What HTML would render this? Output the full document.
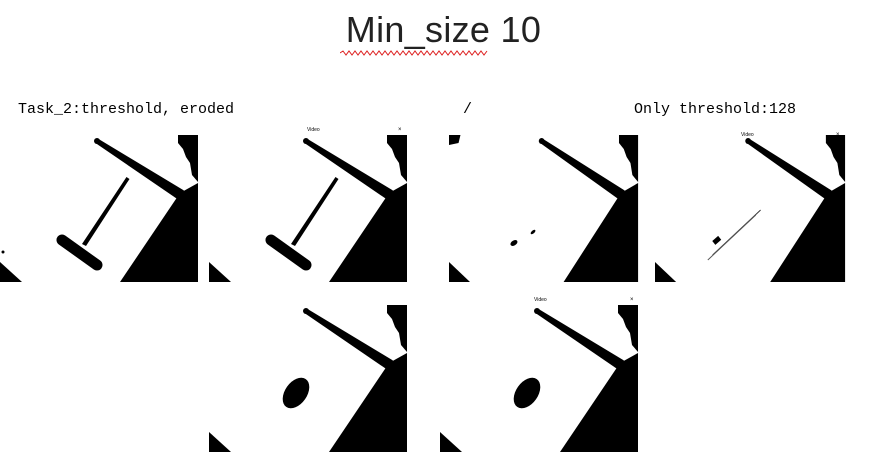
<!DOCTYPE html>
<html><head><meta charset="utf-8">
<style>
body{margin:0;width:887px;height:459px;background:#fff;overflow:hidden;position:relative;font-family:"Liberation Sans",sans-serif}
.t{position:absolute;white-space:nowrap}
</style></head><body>
<div class="t" style="left:0;width:887px;text-align:center;top:9px;font-size:36px;color:#222;letter-spacing:0.3px">Min_size 10</div>
<svg style="position:absolute;left:340px;top:50px" width="152" height="6"><path d="M0 3 l3 -2 l3 4 l3 -4 l3 4 l3 -4 l3 4 l3 -4 l3 4 l3 -4 l3 4 l3 -4 l3 4 l3 -4 l3 4 l3 -4 l3 4 l3 -4 l3 4 l3 -4 l3 4 l3 -4 l3 4 l3 -4 l3 4 l3 -4 l3 4 l3 -4 l3 4 l3 -4 l3 4 l3 -4 l3 4 l3 -4 l3 4 l3 -4 l3 4 l3 -4 l3 4 l3 -4 l3 4 l3 -4 l3 4 l3 -4 l3 4 l3 -4 l3 4 l3 -4 l3 4 l3 -4" stroke="#d22" fill="none" stroke-width="1"/></svg>
<div class="t" style="left:18px;top:101px;font-family:'Liberation Mono',monospace;font-size:15px">Task_2:threshold, eroded</div>
<div class="t" style="left:463px;top:101px;font-family:'Liberation Mono',monospace;font-size:15px">/</div>
<div class="t" style="left:634px;top:101px;font-family:'Liberation Mono',monospace;font-size:15px">Only threshold:128</div>
<svg width="887" height="459" style="position:absolute;left:0;top:0">
<defs>
<g id="base">
<polygon points="178,0 198,0 198,47 192,40 190,28 186,22 183,14 178,8"/>
<polygon points="180,58 198,48 198,147 120,147"/>
<polygon points="95.6,8.1 98.4,3.9 184,55.5 178,64.5"/>
<circle cx="97" cy="6" r="3"/>
<polygon points="0,127 22,147 0,147"/>
</g>
<g id="tee">
<polygon points="126.5,42 129.5,44 86,111 82,109"/>
<line x1="62" y1="105" x2="97" y2="130" stroke="#000" stroke-width="11" stroke-linecap="round"/>
</g>
<g id="oval"><ellipse cx="87" cy="88" rx="11" ry="17" transform="rotate(35 87 88)"/></g>
</defs>
<g transform="translate(0,135)"><use href="#base"/><use href="#tee"/><circle cx="3" cy="117" r="1.5"/></g>
<g transform="translate(209,135)"><use href="#base"/><use href="#tee"/></g>
<g transform="translate(449,135) scale(0.955,1)"><use href="#base"/><ellipse cx="68" cy="108" rx="4" ry="2.5" transform="rotate(-30 68 108)"/><ellipse cx="88" cy="97" rx="3" ry="1.5" transform="rotate(-40 88 97)"/><polygon points="0,0 12,0 10,8 0,10"/></g>
<g transform="translate(655,135) scale(0.96,1)"><use href="#base"/><line x1="60" y1="120" x2="110" y2="75" stroke="#333" stroke-width="1"/><line x1="55" y1="125" x2="105" y2="80" stroke="#555" stroke-width="1"/><rect x="60" y="103" width="8" height="5" transform="rotate(-40 64 105)"/></g>
<g transform="translate(209,305)"><use href="#base"/><use href="#oval"/><circle cx="2" cy="131" r="1.5"/></g>
<g transform="translate(440,305)"><use href="#base"/><use href="#oval"/></g>
<text x="307" y="131" font-size="5" font-family="Liberation Sans">Video</text><text x="398" y="131" font-size="6">×</text>
<text x="741" y="136" font-size="5" font-family="Liberation Sans">Video</text><text x="836" y="136" font-size="6">×</text>
<text x="534" y="301" font-size="5" font-family="Liberation Sans">Video</text><text x="630" y="301" font-size="6">×</text>
</svg>
</body></html>
